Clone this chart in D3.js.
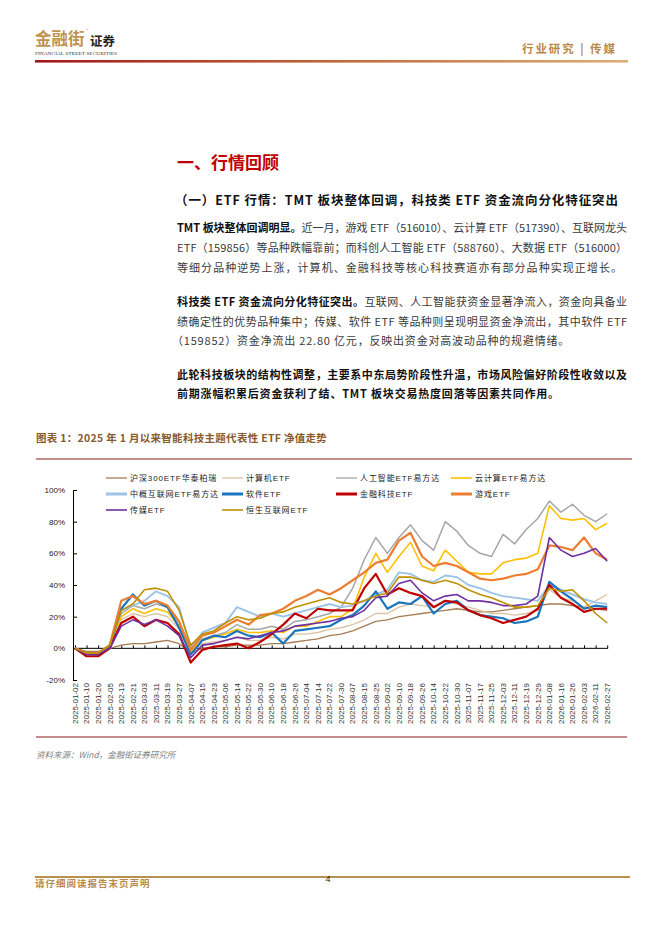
<!DOCTYPE html>
<html>
<head>
<meta charset="utf-8">
<script src="https://cdn.jsdelivr.net/npm/d3@7"></script>
<style>
  html, body { margin: 0; padding: 0; background: #fff; }
  svg { display: block; }
</style>
</head>
<body>
<div id="page"></div>
<script>
// ---------- DATA ----------
const dates = ["2025-01-02","2025-01-10","2025-01-20","2025-02-05","2025-02-13","2025-02-21","2025-03-03","2025-03-11","2025-03-19","2025-03-27","2025-04-07","2025-04-15","2025-04-23","2025-05-06","2025-05-14","2025-05-22","2025-05-30","2025-06-10","2025-06-18","2025-06-26","2025-07-04","2025-07-14","2025-07-22","2025-07-30","2025-08-07","2025-08-15","2025-08-25","2025-09-02","2025-09-10","2025-09-18","2025-09-26","2025-10-14","2025-10-22","2025-10-30","2025-11-07","2025-11-17","2025-11-25","2025-12-03","2025-12-11","2025-12-19","2025-12-29","2026-01-08","2026-01-16","2026-01-26","2026-02-03","2026-02-11","2026-02-27"];

const seriesNames = ["沪深300ETF华泰柏瑞","计算机ETF","人工智能ETF易方达","云计算ETF易方达","中概互联网ETF易方达","软件ETF","金融科技ETF","游戏ETF","传媒ETF","恒生互联网ETF"];

const hs300     = [0,-2,-2,0,2, 3,3,4,5,3, -3,0,1,1,2, 2,2,3,3,4, 5,6,8,9,11, 14,17,18,20,21, 22,23,24,25,24, 23,23,24,25,26, 27,28,28,27,26, 25,24];
const computer  = [0,-3,-4,1,18, 22,20,22,20,12, -3,3,4,5,7, 5,5,7,6,9, 9,10,12,13,15, 18,22,22,26,28, 27,26,30,28,26, 24,22,22,21,22, 24,37,32,30,26, 30,34];
const aiEtf     = [0,-3,-4,2,22, 27,25,28,26,16, -3,6,8,10,15, 12,12,14,12,17, 18,20,22,26,38, 56,70,60,70,78, 68,62,80,74,65, 60,58,72,66,75, 82,93,86,91,84, 80,85];
const cloud     = [0,-3,-4,2,20, 25,22,25,23,14, -2,5,7,9,12, 10,10,11,10,14, 14,17,20,20,25, 45,60,48,58,67, 52,49,62,55,48, 47,47,54,56,57, 60,90,82,81,82, 75,79];
const zhonggai  = [0,-3,-3,2,24, 27,30,36,33,26, 0,10,13,16,26, 23,20,22,20,22, 24,26,28,26,27, 30,34,37,48,47, 43,42,46,45,40, 38,35,33,32,31, 30,40,37,34,31, 29,28];
const software  = [0,-3,-4,1,25, 34,27,30,26,13, -4,5,8,7,11, 8,7,10,3,11, 12,13,14,18,21, 27,36,25,29,28, 33,22,28,30,24, 21,20,19,16,17, 20,42,36,31,25, 27,26];
const fintech   = [0,-5,-5,0,16, 20,14,18,16,9, -9,-1,1,2,3, 0,4,9,15,22, 19,25,24,24,24, 38,47,34,38,35, 33,26,30,29,24, 21,19,16,18,20, 25,40,32,28,23, 25,25];
const game      = [0,-3,-3,2,30, 33,28,30,27,17, -1,8,10,14,18, 15,21,22,25,30, 33,37,34,38,43, 48,54,56,68,73, 58,52,54,52,48, 44,43,44,46,47, 50,65,64,62,70, 60,56];
const media     = [0,-4,-4,0,14, 18,15,18,14,8, -6,2,3,5,7, 6,8,10,11,14, 15,16,17,19,20, 24,32,33,41,43, 35,30,33,34,30, 30,29,27,27,28, 33,70,62,58,60, 63,55];
const hsInternet= [0,-3,-3,2,24, 28,37,38,36,24, 2,9,11,16,20, 18,19,22,23,26, 28,30,32,29,28, 30,33,35,45,45, 43,41,43,41,37, 34,32,29,26,26, 27,38,36,37,30, 22,16];

const yTicks = [-20, 0, 20, 40, 60, 80, 100];

// ---------- STYLE (not data) ----------
const seriesValues = [hs300, computer, aiEtf, cloud, zhonggai, software, fintech, game, media, hsInternet];
const colors = ["#a67c52","#d9c3a3","#a6a6a6","#ffc000","#9dc3e6","#1a75bc","#c00000","#ed7d31","#7030a0","#bf9000"];
const widths = [1.3,1.3,1.5,1.6,1.9,2.2,2.2,2.2,1.6,1.6];
const legendWidths = [1.3,1.3,1.3,1.6,3,3,3,3,1.6,1.6];

const W = 662, H = 936;
const CJK = "'Noto Sans CJK SC','Noto Sans',sans-serif";
const LAT = "'Liberation Sans',Arial,'Noto Sans CJK SC',sans-serif";

const svg = d3.select("#page").append("svg").attr("width", W).attr("height", H);
svg.append("rect").attr("width", W).attr("height", H).attr("fill", "#fff");

// ---------- HEADER ----------
const defs = svg.append("defs");
const grad = defs.append("linearGradient").attr("id","hdr").attr("x1","0").attr("x2","1");
grad.append("stop").attr("offset","0").attr("stop-color","#a3161c");
grad.append("stop").attr("offset","0.5").attr("stop-color","#c0683a");
grad.append("stop").attr("offset","1").attr("stop-color","#ddb078");
svg.append("rect").attr("x",35).attr("y",60).attr("width",593).attr("height",2.6).attr("fill","url(#hdr)");

svg.append("text").attr("x",35).attr("y",45).attr("font-family",CJK).attr("font-weight",700)
  .attr("font-size",16.5).attr("fill","#c0924f").text("金融街");
svg.append("text").attr("x",86).attr("y",31).attr("font-family",LAT).attr("font-size",3.5).attr("fill","#c0924f").text("®");
svg.append("text").attr("x",90).attr("y",46).attr("font-family",CJK).attr("font-weight",700)
  .attr("font-size",12.5).attr("fill","#222").text("证券");
svg.append("text").attr("x",35).attr("y",54.5).attr("font-family","'Liberation Serif',serif")
  .attr("font-size",4.4).attr("fill","#333").attr("textLength",82).attr("lengthAdjust","spacingAndGlyphs")
  .text("FINANCIAL STREET SECURITIES");

svg.append("text").attr("x",522).attr("y",53).attr("font-family",CJK).attr("font-weight",700)
  .attr("font-size",11.5).attr("fill","#b8894a").attr("textLength",93).attr("lengthAdjust","spacing")
  .text("行业研究 | 传媒");

// ---------- HEADINGS & BODY ----------
svg.append("text").attr("x",177).attr("y",169).attr("font-family",CJK).attr("font-weight",700)
  .attr("font-size",17).attr("fill","#c00000").text("一、行情回顾");

svg.append("text").attr("x",175).attr("y",205).attr("font-family",CJK).attr("font-weight",700)
  .attr("font-size",12.5).attr("fill","#111").attr("textLength",443).attr("lengthAdjust","spacing")
  .text("（一）ETF 行情：TMT 板块整体回调，科技类 ETF 资金流向分化特征突出");

function bodyLine(y, parts, len, x) {
  const t = svg.append("text").attr("x", x || 177).attr("y", y).attr("font-family", CJK)
    .attr("font-size", 11).attr("fill", "#333");
  if (len) t.attr("textLength", len).attr("lengthAdjust", "spacing");
  else t.attr("letter-spacing", 0.8);
  parts.forEach(p => {
    t.append("tspan").attr("font-weight", p.b ? 700 : 400).attr("fill", p.b ? "#111" : "#3a3a3a").text(p.t);
  });
}
bodyLine(232, [{t:"TMT 板块整体回调明显。", b:true},{t:"近一月，游戏 ETF（516010）、云计算 ETF（517390）、互联网龙头"}], 450);
bodyLine(252, [{t:"ETF（159856）等品种跌幅靠前；而科创人工智能 ETF（588760）、大数据  ETF（516000）"}], 450);
bodyLine(272, [{t:"等细分品种逆势上涨，计算机、金融科技等核心科技赛道亦有部分品种实现正增长。"}], 445);
bodyLine(306, [{t:"科技类 ETF 资金流向分化特征突出。", b:true},{t:"互联网、人工智能获资金显著净流入，资金向具备业"}], 450);
bodyLine(326, [{t:"绩确定性的优势品种集中；传媒、软件  ETF 等品种则呈现明显资金净流出，其中软件 ETF"}], 450);
bodyLine(345, [{t:"（159852）资金净流出 22.80 亿元，反映出资金对高波动品种的规避情绪。"}], null, 172);
bodyLine(379, [{t:"此轮科技板块的结构性调整，主要系中东局势阶段性升温，市场风险偏好阶段性收敛以及", b:true}], 450);
bodyLine(398, [{t:"前期涨幅积累后资金获利了结、TMT 板块交易热度回落等因素共同作用。", b:true}], null);

// ---------- CHART TITLE ----------
svg.append("text").attr("x",36).attr("y",442).attr("font-family",CJK).attr("font-weight",700)
  .attr("font-size",10.5).attr("fill","#8a5a2e").attr("letter-spacing",0.3)
  .text("图表 1：2025 年 1 月以来智能科技主题代表性 ETF 净值走势");
svg.append("line").attr("x1",36).attr("x2",632).attr("y1",459).attr("y2",459)
  .attr("stroke","#8b1a1a").attr("stroke-width",1.2);
svg.append("line").attr("x1",36).attr("x2",627).attr("y1",737).attr("y2",737)
  .attr("stroke","#8b1a1a").attr("stroke-width",1.2);

svg.append("text").attr("x",36).attr("y",758).attr("font-family",CJK).attr("font-style","italic")
  .attr("font-size",8.5).attr("fill","#808080")
  .text("资料来源：Wind，金融街证券研究所");

// ---------- CHART ----------
const x = d3.scalePoint().domain(dates).range([75, 607.2]);
const y = d3.scaleLinear().domain([-20, 100]).range([680, 490]);

// y axis
const yAxis = svg.append("g").attr("transform","translate(73,0)")
  .call(d3.axisLeft(y).tickValues(yTicks).tickFormat(d => d + "%").tickSize(-4).tickSizeOuter(-4).tickPadding(8));
yAxis.selectAll("text").attr("font-family",LAT).attr("font-size",8).attr("fill","#222");
yAxis.selectAll("line,path").attr("stroke","#000").attr("stroke-width",1);

// x axis at zero
const xAxis = svg.append("g").attr("transform",`translate(0,${y(0)})`)
  .call(d3.axisBottom(x).tickSize(-3).tickSizeOuter(0).tickFormat(""));
xAxis.select(".domain").remove();
xAxis.selectAll("line").attr("stroke","#000");
svg.append("line").attr("x1",73).attr("x2",608).attr("y1",y(0)).attr("y2",y(0)).attr("stroke","#000").attr("stroke-width",1);

// x labels at bottom
svg.append("g").selectAll("text").data(dates).join("text")
  .attr("transform", d => `translate(${x(d)},683) rotate(-90)`)
  .attr("text-anchor","end").attr("dy","0.35em")
  .attr("font-family",LAT).attr("font-size",8).attr("fill","#333")
  .text(d => d);

// lines
const line = d3.line().x((d,i) => x(dates[i])).y(d => y(d));
svg.append("g").selectAll("path").data(seriesValues).join("path")
  .attr("d", d => line(d)).attr("fill","none")
  .attr("stroke", (d,i) => colors[i]).attr("stroke-width", (d,i) => widths[i])
  .attr("stroke-linejoin","round");

// legend
const legCols = [106, 222, 336, 451];
const legRows = [478, 494, 510];
const leg = svg.append("g");
seriesNames.forEach((name, i) => {
  const cx = legCols[i % 4], cy = legRows[Math.floor(i / 4)];
  leg.append("line").attr("x1",cx).attr("x2",cx+21).attr("y1",cy).attr("y2",cy)
    .attr("stroke",colors[i]).attr("stroke-width",legendWidths[i]);
  leg.append("text").attr("x",cx+24).attr("y",cy).attr("dy","0.35em")
    .attr("font-family",LAT).attr("font-size",8).attr("letter-spacing",0.9).attr("fill","#222")
    .text(name);
});

// ---------- FOOTER ----------
svg.append("line").attr("x1",35).attr("x2",630).attr("y1",877).attr("y2",877)
  .attr("stroke","#b8904f").attr("stroke-width",2);
svg.append("text").attr("x",35).attr("y",887).attr("font-family",CJK).attr("font-weight",700)
  .attr("font-size",9.5).attr("fill","#b8894a").attr("letter-spacing",1)
  .text("请仔细阅读报告末页声明");
svg.append("text").attr("x",328).attr("y",882).attr("text-anchor","middle").attr("font-family",LAT)
  .attr("font-size",9).attr("fill","#222").text("4");
</script>
</body>
</html>
